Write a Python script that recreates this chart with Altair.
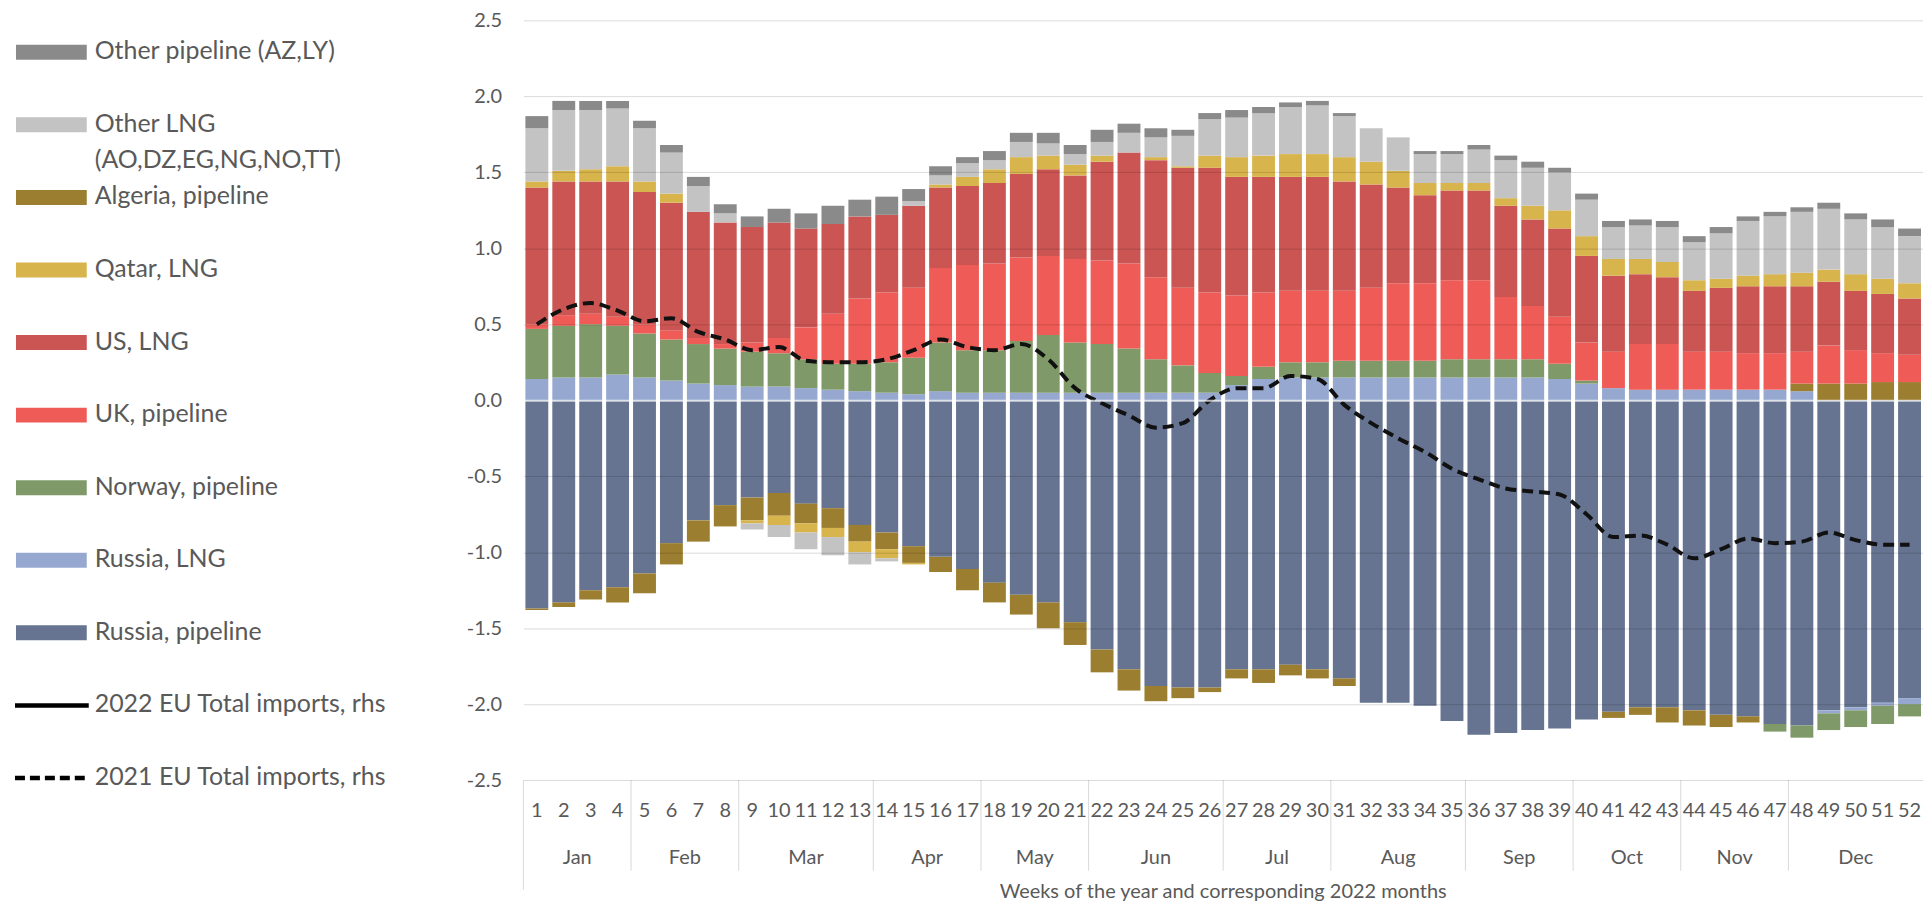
import altair as alt
import pandas as pd

FONT = "Lato"
TXT = "#595959"

weeks = list(range(1, 53))

series_names = [
    "Russia, pipeline", "Russia, LNG", "Norway, pipeline", "Algeria, pipeline",
    "UK, pipeline", "US, LNG", "Qatar, LNG",
    "Other LNG (AO,DZ,EG,NG,NO,TT)", "Other pipeline (AZ,LY)",
]
series_colors = [
    "#667491", "#97a8d0", "#7f9a68", "#9c7e30",
    "#ef5b56", "#cb5553", "#d8b44c", "#c3c3c3", "#8a8a8a",
]

russia_pipeline = [-1.37, -1.33, -1.25, -1.23, -1.14, -0.94, -0.79, -0.69, -0.64, -0.61, -0.68, -0.71, -0.82,
                   -0.87, -0.96, -1.03, -1.11, -1.20, -1.28, -1.33, -1.46, -1.64, -1.77, -1.88, -1.89, -1.89,
                   -1.77, -1.77, -1.74, -1.77, -1.83, -1.99, -1.99, -2.01, -2.11, -2.20, -2.19, -2.17, -2.16,
                   -2.10, -2.05, -2.02, -2.02, -2.04, -2.07, -2.08, -2.13, -2.14, -2.04, -2.02, -1.99, -1.96]
russia_lng = [0.14, 0.15, 0.15, 0.17, 0.15, 0.13, 0.11, 0.10, 0.09, 0.09, 0.08, 0.07, 0.06,
              0.05, 0.04, 0.06, 0.05, 0.05, 0.05, 0.05, 0.05, 0.05, 0.05, 0.05, 0.05, 0.05,
              0.10, 0.14, 0.15, 0.15, 0.15, 0.15, 0.15, 0.15, 0.15, 0.15, 0.15, 0.15, 0.14,
              0.11, 0.08, 0.07, 0.07, 0.07, 0.07, 0.07, 0.07, 0.06, -0.02, -0.02, -0.02, -0.04]
norway_pipeline = [0.33, 0.34, 0.35, 0.32, 0.29, 0.27, 0.26, 0.24, 0.23, 0.22, 0.19, 0.17, 0.18,
                   0.20, 0.24, 0.32, 0.28, 0.28, 0.34, 0.38, 0.33, 0.32, 0.29, 0.22, 0.18, 0.13,
                   0.06, 0.08, 0.10, 0.10, 0.11, 0.11, 0.11, 0.11, 0.12, 0.12, 0.12, 0.12, 0.10,
                   0.02, 0.0, 0.0, 0.0, 0.0, 0.0, 0.0, -0.05, -0.08, -0.11, -0.11, -0.12, -0.08]
algeria_pipeline = [-0.01, -0.03, -0.06, -0.10, -0.13, -0.14, -0.14, -0.14, -0.15, -0.15, -0.13, -0.13, -0.11,
                    -0.11, -0.11, -0.10, -0.14, -0.13, -0.13, -0.17, -0.15, -0.15, -0.14, -0.10, -0.07, -0.03,
                    -0.06, -0.09, -0.07, -0.06, -0.05, 0.0, 0.0, 0.0, 0.0, 0.0, 0.0, 0.0, 0.0,
                    0.0, -0.04, -0.05, -0.10, -0.10, -0.08, -0.04, 0.0, 0.05, 0.11, 0.11, 0.12, 0.12]
uk_pipeline = [0.03, 0.07, 0.07, 0.06, 0.06, 0.06, 0.04, 0.03, 0.06, 0.10, 0.21, 0.33, 0.43,
               0.46, 0.46, 0.49, 0.56, 0.57, 0.55, 0.52, 0.55, 0.55, 0.56, 0.54, 0.51, 0.53,
               0.53, 0.49, 0.47, 0.47, 0.46, 0.48, 0.51, 0.51, 0.52, 0.52, 0.41, 0.35, 0.31,
               0.25, 0.24, 0.30, 0.30, 0.25, 0.25, 0.24, 0.24, 0.21, 0.25, 0.22, 0.19, 0.18]
us_lng = [0.90, 0.88, 0.87, 0.89, 0.87, 0.84, 0.83, 0.80, 0.76, 0.76, 0.65, 0.59, 0.54,
          0.51, 0.54, 0.53, 0.52, 0.53, 0.55, 0.57, 0.55, 0.65, 0.73, 0.77, 0.79, 0.82,
          0.78, 0.76, 0.75, 0.75, 0.72, 0.68, 0.63, 0.58, 0.59, 0.59, 0.60, 0.57, 0.58,
          0.57, 0.50, 0.46, 0.44, 0.40, 0.42, 0.44, 0.44, 0.43, 0.42, 0.39, 0.39, 0.37]
qatar_lng = [0.04, 0.07, 0.08, 0.10, 0.07, 0.06, 0.0, 0.0, -0.02, -0.06, -0.06, -0.06, -0.07,
             -0.06, -0.01, 0.02, 0.06, 0.09, 0.11, 0.09, 0.07, 0.04, 0.0, 0.02, 0.01, 0.08,
             0.13, 0.14, 0.15, 0.15, 0.16, 0.15, 0.11, 0.08, 0.05, 0.05, 0.05, 0.09, 0.12,
             0.13, 0.11, 0.10, 0.10, 0.07, 0.06, 0.07, 0.08, 0.09, 0.08, 0.11, 0.10, 0.10]
other_lng = [0.35, 0.40, 0.39, 0.38, 0.35, 0.27, 0.17, 0.06, -0.04, -0.08, -0.11, -0.12, -0.08,
             -0.02, 0.03, 0.06, 0.09, 0.06, 0.10, 0.08, 0.07, 0.09, 0.13, 0.13, 0.20, 0.24,
             0.26, 0.28, 0.31, 0.32, 0.27, 0.22, 0.22, 0.19, 0.19, 0.22, 0.25, 0.25, 0.25,
             0.24, 0.21, 0.22, 0.23, 0.25, 0.30, 0.36, 0.38, 0.40, 0.40, 0.36, 0.34, 0.31]
other_pipeline = [0.08, 0.06, 0.06, 0.05, 0.05, 0.05, 0.06, 0.06, 0.07, 0.09, 0.10, 0.12, 0.11,
                  0.12, 0.08, 0.06, 0.04, 0.06, 0.06, 0.07, 0.06, 0.08, 0.06, 0.06, 0.04, 0.04,
                  0.05, 0.04, 0.03, 0.03, 0.02, 0.0, 0.0, 0.02, 0.02, 0.03, 0.03, 0.04, 0.03,
                  0.04, 0.04, 0.04, 0.04, 0.04, 0.04, 0.03, 0.03, 0.03, 0.04, 0.04, 0.05, 0.05]

eu_imports_2021 = [0.50, 0.60, 0.64, 0.59, 0.52, 0.54, 0.45, 0.40, 0.33, 0.35, 0.26, 0.25, 0.25,
                   0.27, 0.33, 0.40, 0.35, 0.33, 0.37, 0.27, 0.08, -0.02, -0.10, -0.18, -0.15, 0.0,
                   0.08, 0.08, 0.16, 0.14, -0.03, -0.15, -0.25, -0.34, -0.45, -0.52, -0.58, -0.60, -0.62,
                   -0.75, -0.90, -0.89, -0.95, -1.04, -0.98, -0.91, -0.94, -0.93, -0.87, -0.92, -0.95, -0.95]

months = ["Jan", "Feb", "Mar", "Apr", "May", "Jun", "Jul", "Aug", "Sep", "Oct", "Nov", "Dec"]
weeks_per_month = [4, 4, 5, 4, 4, 5, 4, 5, 4, 4, 4, 5]

legend_keys = ["Other pipeline (AZ,LY)", "Other LNG (AO,DZ,EG,NG,NO,TT)", "Algeria, pipeline",
               "Qatar, LNG", "US, LNG", "UK, pipeline", "Norway, pipeline", "Russia, LNG",
               "Russia, pipeline", "2022 EU Total imports, rhs", "2021 EU Total imports, rhs"]
legend_labels = ["Other pipeline (AZ,LY)", "Other LNG\n(AO,DZ,EG,NG,NO,TT)", "Algeria, pipeline",
                 "Qatar, LNG", "US, LNG", "UK, pipeline", "Norway, pipeline", "Russia, LNG",
                 "Russia, pipeline", "2022 EU Total imports, rhs", "2021 EU Total imports, rhs"]

y_ticks = [-2.5, -2.0, -1.5, -1.0, -0.5, 0.0, 0.5, 1.0, 1.5, 2.0, 2.5]
x_title = "Weeks of the year and corresponding 2022 months"

# ---------------- data tables ----------------
series_values = [russia_pipeline, russia_lng, norway_pipeline, algeria_pipeline, uk_pipeline,
                 us_lng, qatar_lng, other_lng, other_pipeline]
rows = []
for rank, (name, vals) in enumerate(zip(series_names, series_values)):
    for w, v in zip(weeks, vals):
        rows.append({"week": w, "series": name, "value": v, "rank": rank})
bars_df = pd.DataFrame(rows)
line_df = pd.DataFrame({"week": weeks, "value": eu_imports_2021})

starts, mids, ends = [], [], []
acc = weeks[0] - 0.5
for n in weeks_per_month:
    starts.append(acc)
    mids.append(acc + n / 2)
    acc += n
    ends.append(acc)
month_df = pd.DataFrame({"month": months, "mid": mids})
sep_df = pd.DataFrame({"boundary": ends[:-1]})
edge_df = pd.DataFrame({"boundary": [starts[0]]})
title_df = pd.DataFrame({"title": [x_title], "mid": [(starts[0] + ends[-1]) / 2]})

# ---------------- geometry ----------------
Y_TOP, Y_BOT = 2.5, -3.22
H = 872
W = 1404
PX = H / (Y_TOP - Y_BOT)
y_scale = alt.Scale(domain=[Y_BOT, Y_TOP], nice=False, zero=False)
x_band_scale = alt.Scale(paddingInner=0.15, paddingOuter=0.075)
x_q_scale = alt.Scale(domain=[weeks[0] - 0.5, weeks[-1] + 0.5], nice=False, zero=False)

y_axis = alt.Axis(
    values=y_ticks,
    labelExpr="(datum.value < 0 ? '-' : '') + format(abs(datum.value), '.1f')",
    labelFontSize=20, labelColor=TXT, labelFont=FONT, labelPadding=22,
    ticks=False, domain=False, grid=True,
    gridColor={"condition": {"test": "datum.value === 0", "value": "#ffffff"}, "value": "#000000"},
    gridOpacity={"condition": {"test": "datum.value === 0", "value": 0.7}, "value": 0.15},
    gridWidth={"condition": {"test": "datum.value === 0", "value": 2}, "value": 1},
    zindex=1, title=None,
)
x_axis = alt.Axis(
    orient="bottom", offset=-(H - (Y_TOP - (-2.5)) * PX), labelAngle=0,
    labelFontSize=20, labelColor=TXT, labelFont=FONT, labelPadding=20, labelOverlap=False,
    ticks=False, domain=False, grid=False, title=None,
)

bars = alt.Chart(bars_df).mark_bar().encode(
    x=alt.X("week:O", scale=x_band_scale, axis=x_axis, title=None),
    y=alt.Y("value:Q", stack="zero", scale=y_scale, axis=y_axis, title=None),
    color=alt.Color("series:N", scale=alt.Scale(domain=series_names, range=series_colors), legend=None),
    order=alt.Order("rank:Q", sort="ascending"),
)
line = alt.Chart(line_df).mark_line(
    color="#111111", strokeDash=[11, 6], strokeWidth=4, interpolate="monotone"
).encode(
    x=alt.X("week:O", title=None),
    y=alt.Y("value:Q", title=None),
)

month_text = alt.Chart(month_df).mark_text(fontSize=20, font=FONT, color=TXT).encode(
    x=alt.X("mid:Q", scale=x_q_scale, axis=None),
    y=alt.datum(-3.01),
    text="month:N",
)
title_text = alt.Chart(title_df).mark_text(fontSize=20, font=FONT, color=TXT).encode(
    x=alt.X("mid:Q", scale=x_q_scale, axis=None),
    y=alt.datum(-3.235),
    text="title:N",
)
separators = alt.Chart(sep_df).mark_rule(color="#d9d9d9", strokeWidth=1).encode(
    x=alt.X("boundary:Q", scale=x_q_scale, axis=None),
    y=alt.datum(-2.5),
    y2=alt.datum(-3.095),
)
left_edge = alt.Chart(edge_df).mark_rule(color="#d9d9d9", strokeWidth=1).encode(
    x=alt.X("boundary:Q", scale=x_q_scale, axis=None),
    y=alt.datum(-2.5),
    y2=alt.datum(Y_BOT),
)

main = alt.layer(
    alt.layer(bars, line),
    alt.layer(separators, left_edge, month_text, title_text),
).resolve_scale(x="independent").properties(width=W, height=H)

# ---------------- legend panel ----------------
leg_df = pd.DataFrame({"key": legend_keys, "label": legend_labels})
leg_y = alt.Y("key:N", scale=alt.Scale(type="point", domain=legend_keys, range=[32, 760], padding=0),
              axis=None)
swatches = alt.Chart(leg_df.iloc[:9]).mark_rule(strokeWidth=15).encode(
    x=alt.value(6), x2=alt.value(77), y=leg_y,
    color=alt.Color("key:N", scale=alt.Scale(domain=series_names, range=series_colors), legend=None),
)
line_keys = legend_keys[9:]
line_sw = alt.Chart(leg_df.iloc[9:]).mark_rule(strokeWidth=4.5, color="#000000").encode(
    x=alt.value(5), x2=alt.value(79), y=leg_y,
    strokeDash=alt.StrokeDash("key:N", scale=alt.Scale(domain=line_keys, range=[[1, 0], [10, 5]]), legend=None),
)
leg_text = alt.Chart(leg_df).mark_text(
    align="left", baseline="top", dy=-13, fontSize=25, font=FONT, color=TXT, lineBreak="\n", lineHeight=36
).encode(x=alt.value(85), y=leg_y, text="label:N")

legend_panel = alt.layer(swatches, line_sw, leg_text).properties(width=440, height=H)

chart = alt.hconcat(legend_panel, main, spacing=75, bounds="flush").configure_view(
    stroke=None
).properties(padding={"left": 0, "top": 1, "right": 0, "bottom": 0}, background="white")

chart.save("out.html", embed_options={"renderer": "svg", "actions": False})
